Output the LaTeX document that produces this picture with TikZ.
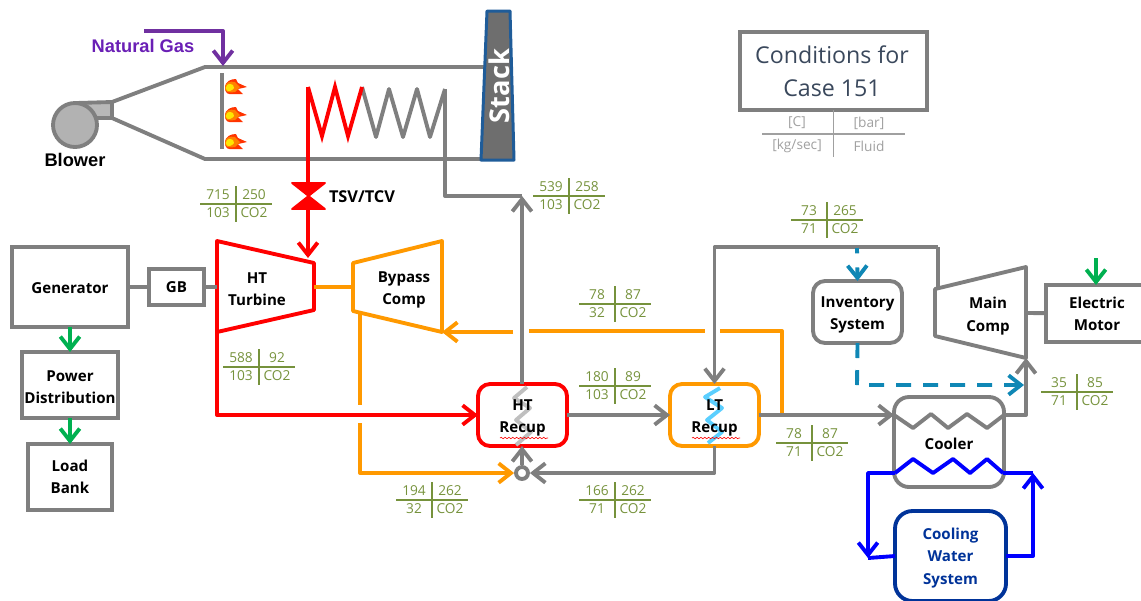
\documentclass[tikz,border=0pt]{standalone}
\usepackage{fontspec}
\setmainfont{Open Sans}
\newfontfamily\arialfont{Liberation Sans}
\usetikzlibrary{arrows.meta,decorations.pathmorphing}

\definecolor{cyclegray}{HTML}{7F7F7F}
\definecolor{cycleorange}{HTML}{FF9900}
\definecolor{cyclegreen}{HTML}{00B050}
\definecolor{gaspurple}{HTML}{7030A0}
\definecolor{gastext}{HTML}{6A1FB5}
\definecolor{waterblue}{HTML}{0000FF}
\definecolor{systemblue}{HTML}{003399}
\definecolor{inventoryblue}{HTML}{0F87B5}
\definecolor{stackblue}{HTML}{1F5C99}
\definecolor{statetext}{HTML}{76923C}
\definecolor{casetext}{HTML}{3A485C}
\definecolor{legendgray}{HTML}{A0A0A0}
\definecolor{recupblue}{HTML}{5BCFFF}

\tikzset{
	>={Straight Barb[length=7pt,width=11pt]},
	pipe/.style={line width=2.2pt,line join=round},
	unitbox/.style={draw=cyclegray,line width=2.2pt,fill=white,inner sep=0pt,outer sep=0pt,align=center,font=\fontsize{8.6}{12.6}\bfseries\selectfont},
	unitlabel/.style={inner sep=0pt,align=center,font=\fontsize{8.6}{12.6}\bfseries\selectfont},
	tabrule/.style={line width=0.8pt},
	tabtext/.style={inner sep=0pt,font=\fontsize{7.8}{9}\selectfont},
	wavyline/.style={red,line width=0.35pt,decorate,decoration={snake,amplitude=0.4pt,segment length=2.2pt}}
}

\newcommand{\statetab}[7]{%
	\coordinate (#1) at (#2);
	\draw[tabrule,#7] (#1) ++(-36,0) -- ++(72,0);
	\draw[tabrule,#7] (#1) ++(0,-18) -- ++(0,36);
	\node[tabtext,text=#7] (#1a) at ([shift={(-18,-9)}]#1) {#3};
	\node[tabtext,text=#7] (#1b) at ([shift={(18,-9)}]#1) {#4};
	\node[tabtext,text=#7] (#1c) at ([shift={(-18,9)}]#1) {#5};
	\node[tabtext,text=#7] (#1d) at ([shift={(18,9)}]#1) {#6};
}
\newcommand{\flameat}[2]{%
	\fill[red!60!orange,shift={(#1,#2)}] (0,1) .. controls (0,-6) and (6,-8) .. (11,-8) -- (13,-4) -- (22,0) -- (13,2) -- (18,7) -- (9,7) .. controls (3,8) and (0,6) .. cycle;
	\fill[orange,shift={(#1,#2)}] (0,1) .. controls (0,-5) and (5,-6) .. (10,-5) -- (15,0) -- (10,5) .. controls (3,6) and (0,5) .. cycle;
	\fill[yellow!90!orange,shift={(#1,#2)}] (1,1) .. controls (1,-3) and (5,-4) .. (8,-2) -- (9,1) -- (7,3) .. controls (4,5) and (1,4) .. cycle;
}

\begin{document}
\begin{tikzpicture}[x=0.02cm,y=-0.02cm]
	\useasboundingbox (0,0) rectangle (1141,600);

	\coordinate (d1) at (112,102);%duct top
	\coordinate (d2) at (205,67);
	\coordinate (d3) at (484,67);
	\coordinate (d4) at (112,118);%duct bottom
	\coordinate (d5) at (205,159);
	\coordinate (d6) at (484,159);
	\coordinate (t1) at (217,241);%HT turbine
	\coordinate (t2) at (314,263);
	\coordinate (t3) at (314,310);
	\coordinate (t4) at (217,332);
	\coordinate (b1) at (353,263);%bypass comp
	\coordinate (b2) at (442,241);
	\coordinate (b3) at (442,332);
	\coordinate (b4) at (353,311);
	\coordinate (m1) at (935,289);%main comp
	\coordinate (m2) at (1026,267);
	\coordinate (m3) at (1026,358);
	\coordinate (m4) at (935,336);
	\coordinate (v1) at (308,183);%valve
	\coordinate (v2) at (308,209);
	\coordinate (coilin) at (308,87);
	\coordinate (coilout) at (445,89);
	\coordinate (coilmid) at (362,87);
	\coordinate (coolin) at (894,415);
	\coordinate (coolout) at (1004,415);
	\coordinate (waterin) at (1003,473);
	\coordinate (waterout) at (895,473);

	% furnace
	\draw[pipe,cyclegray,fill=black!28] (d1) -- (d4) -- (76,118) -- (76,103) -- cycle;
	\draw[pipe,cyclegray,fill=black!30] (75,125) circle (22);
	\node[inner sep=0pt,font=\arialfont\fontsize{10.4}{12}\bfseries\selectfont] (blower) at (75,160) {Blower};
	\draw[pipe,cyclegray] (d1) -- (d2) -- (d3);
	\draw[pipe,cyclegray] (d4) -- (d5) -- (d6);
	\draw[pipe,gaspurple,->] (144,31) -- (223,31) -- (223,66);
	\node[inner sep=0pt,text=gastext,font=\arialfont\fontsize{10.4}{12}\bfseries\selectfont] (gas) at (143,46) {Natural Gas};
	\draw[pipe,cyclegray] (222,73) -- (222,149);
	\flameat{225}{87}
	\flameat{225}{115}
	\flameat{225}{142}
	\draw[pipe,cyclegray] (coilmid) -- (376,137) -- (389,89) -- (403,137) -- (417,89) -- (430,137) -- (coilout);
	\draw[pipe,red,line join=miter] (coilin) -- (322,136) -- (335,87) -- (348,136) -- (coilmid);
	\draw[pipe,red] (coilin) -- (v1);
	\draw[pipe,red,->] (v2) -- (308,258);
	\fill[red,line join=round,draw=red,line width=1pt] (292,183) -- (325,183) -- (292,209) -- (325,209) -- cycle;
	\node[unitlabel,font=\fontsize{9.3}{12}\bfseries\selectfont] (valve) at (362,197) {TSV/TCV};
	\draw[line width=1.7pt,draw=stackblue,fill=black!57,line join=round] (487,11) -- (510,11) -- (514,160) -- (481,160) -- cycle;
	\node[inner sep=0pt,rotate=90,text=white,font=\fontsize{15.5}{18}\bfseries\selectfont] (stack) at (499,86) {Stack};

	% power train
	\node[unitbox,minimum width=116*0.02cm,minimum height=80*0.02cm] (generator) at (70,287) {};
	\node[unitlabel] (generatorlabel) at (70,288) {Generator};
	\node[unitbox,minimum width=55*0.02cm,minimum height=36*0.02cm] (gb) at (176.5,287) {GB};
	\node[unitbox,minimum width=96*0.02cm,minimum height=66*0.02cm] (pdist) at (70,385) {};
	\node[unitlabel] (pdistlabel) at (70,387) {Power\\Distribution};
	\node[unitbox,minimum width=84*0.02cm,minimum height=66*0.02cm] (loadbank) at (70,477) {Load\\Bank};
	\draw[pipe,cyclegray] (generator) -- (gb);
	\draw[pipe,cyclegreen,->] (generator) -- (pdist);
	\draw[pipe,cyclegreen,->] (pdist) -- (loadbank);

	% turbomachinery
	\draw[pipe,red] (t1) -- (t2) -- (t3) -- (t4) -- cycle;
	\draw[pipe,cycleorange] (b1) -- (b2) -- (b3) -- (b4) -- cycle;
	\draw[pipe,cyclegray] (m1) -- (m2) -- (m3) -- (m4) -- cycle;
	\node[unitlabel] (turbine) at (257,289) {HT\\Turbine};
	\node[unitlabel] (bypass) at (404,290) {Bypass\\Comp};
	\node[unitlabel] (maincomp) at (988,316) {Main\\Comp};
	\draw[pipe,cyclegray] (gb) -- (217,287);
	\draw[pipe,cycleorange] (314,287) -- (353,287);
	\node[unitbox,minimum width=102*0.02cm,minimum height=57*0.02cm] (motor) at (1097,313.5) {Electric\\Motor};
	\draw[pipe,cyclegray] (1026,313) -- (motor);
	\coordinate (motorin) at (1096,258);
	\draw[pipe,cyclegreen,->] (motorin) -- (motor.north -| motorin);

	% recuperators
	\node[unitbox,draw=red,rounded corners=2.4mm,minimum width=89*0.02cm,minimum height=62*0.02cm] (htrecup) at (522.5,415) {};
	\node[unitbox,draw=cycleorange,rounded corners=2.4mm,minimum width=89*0.02cm,minimum height=62*0.02cm] (ltrecup) at (714.5,415) {};
	\draw[pipe,black!25] (527,387) -- (514,398) -- (530,408) -- (516,420) -- (531,432) -- (516,445);
	\draw[pipe,recupblue] (720,388) -- (705,397) -- (722,408) -- (707,420) -- (722,432) -- (708,443);
	\node[unitlabel] (htlabel) at (522.5,418) {HT\\Recup};
	\node[unitlabel] (ltlabel) at (714.5,418) {LT\\Recup};
	\draw[wavyline] (500,438) -- (548,438);
	\draw[wavyline] (692,438) -- (740,438);
	\node[circle,draw=cyclegray,line width=2.2pt,fill=white,inner sep=0pt,minimum size=12*0.02cm] (tee) at (522,473) {};

	% flow lines
	\coordinate (heaterin) at (522,196);
	\draw[pipe,cyclegray] (coilout) -- (445,196) -- (heaterin);
	\draw[pipe,cyclegray,->] (htrecup.north -| heaterin) -- (heaterin);
	\draw[pipe,red,->] (t4) -- (217,415) -- (htrecup.west);
	\draw[pipe,cyclegray,->] (htrecup.east) -- (ltrecup.west);
	\draw[pipe,cyclegray,->] (tee) -- (htrecup.south -| tee);
	\draw[pipe,cyclegray,->] (ltrecup.south) -- (714.5,473) -- (tee);
	\draw[pipe,cycleorange] (360,313) -- (360,405);
	\draw[pipe,cycleorange,->] (360,423) -- (360,473) -- (tee);
	\draw[pipe,cyclegray,->] (938,247) -- (714.5,247) -- (ltrecup.north);
	\draw[pipe,cyclegray] (938,247) -- (938,288);
	\draw[pipe,cycleorange,->] (513,332) -- (b3);
	\draw[pipe,cycleorange] (529,331) -- (705,331);
	\draw[pipe,cycleorange] (720,331) -- (782,331) -- (782,415);
	\draw[pipe,cyclegray,->] (ltrecup.east) -- (coolin);

	% cooler
	\node[unitbox,rounded corners=3mm,minimum width=110*0.02cm,minimum height=90*0.02cm] (cooler) at (949,442) {};
	\node[unitlabel] (coolerlabel) at (949,444) {Cooler};
	\draw[pipe,cyclegray] (coolin) -- (913,428) -- (931,414) -- (948,428) -- (967,414) -- (987,428) -- (coolout);
	\draw[pipe,waterblue] (waterout) -- (913,459) -- (933,473) -- (953,459) -- (970,473) -- (987,459) -- (waterin);
	\draw[pipe,cyclegray,->] (coolout) -- (1026,415) -- (m3);
	\node[unitbox,draw=systemblue,rounded corners=3.5mm,minimum width=111*0.02cm,minimum height=90*0.02cm] (cwsystem) at (950.5,556) {};
	\node[unitlabel,text=systemblue] (cwlabel) at (950.5,558) {Cooling\\Water\\System};
	\coordinate (waterup) at (1033,473);
	\coordinate (waterdown) at (868,558);
	\draw[pipe,waterblue,->] (cwsystem.east) -- (1033,556) -- (waterup);
	\draw[pipe,waterblue] (waterin) -- (waterup);
	\draw[pipe,waterblue,->] (waterout) -- (868,473) -- (waterdown);
	\draw[pipe,waterblue] (cwsystem.west) -- (waterdown);

	% inventory
	\node[unitbox,rounded corners=2.4mm,minimum width=89*0.02cm,minimum height=62*0.02cm] (inventory) at (857.5,312) {};
	\node[unitlabel] (inventorylabel) at (857.5,315) {Inventory\\System};
	\draw[pipe,inventoryblue,->,dash pattern=on 3pt off 8pt on 30pt] (857,248) -- (inventory.north);
	\draw[pipe,inventoryblue,->,dash pattern=on 15*0.02cm off 12*0.02cm] (inventory.south) -- (857,385) -- (1024,385);

	% conditions
	\node[draw=cyclegray,line width=2.2pt,inner sep=0pt,outer sep=0pt,minimum width=187*0.02cm,minimum height=78*0.02cm] (casebox) at (833.5,71) {};
	\node[inner sep=0pt,align=center,text=casetext,font=\fontsize{13.2}{18.8}\selectfont] (casetitle) at (832,71) {Conditions for\\Case 151};
	\draw[tabrule,legendgray] (762,134) -- (905,134);
	\draw[tabrule,legendgray] (casebox.south) -- (833.5,157);
	\node[tabtext,text=legendgray] (legenda) at (797,123) {[C]};
	\node[tabtext,text=legendgray] (legendb) at (869,123) {[bar]};
	\node[tabtext,text=legendgray] (legendc) at (797,146) {[kg/sec]};
	\node[tabtext,text=legendgray] (legendd) at (869,146) {Fluid};

	% states
	\statetab{state1}{236,204}{715}{250}{103}{CO2}{statetext}
	\statetab{state2}{569,196}{539}{258}{103}{CO2}{statetext}
	\statetab{state3}{259,367}{588}{92}{103}{CO2}{statetext}
	\statetab{state4}{432,500}{194}{262}{32}{CO2}{statetext}
	\statetab{state5}{615,304}{78}{87}{32}{CO2}{statetext}
	\statetab{state6}{615,386}{180}{89}{103}{CO2}{statetext}
	\statetab{state7}{615,500}{166}{262}{71}{CO2}{statetext}
	\statetab{state8}{812,443}{78}{87}{71}{CO2}{statetext}
	\statetab{state9}{827,220}{73}{265}{71}{CO2}{statetext}
	\statetab{state10}{1077,392}{35}{85}{71}{CO2}{statetext}
\end{tikzpicture}
\end{document}
